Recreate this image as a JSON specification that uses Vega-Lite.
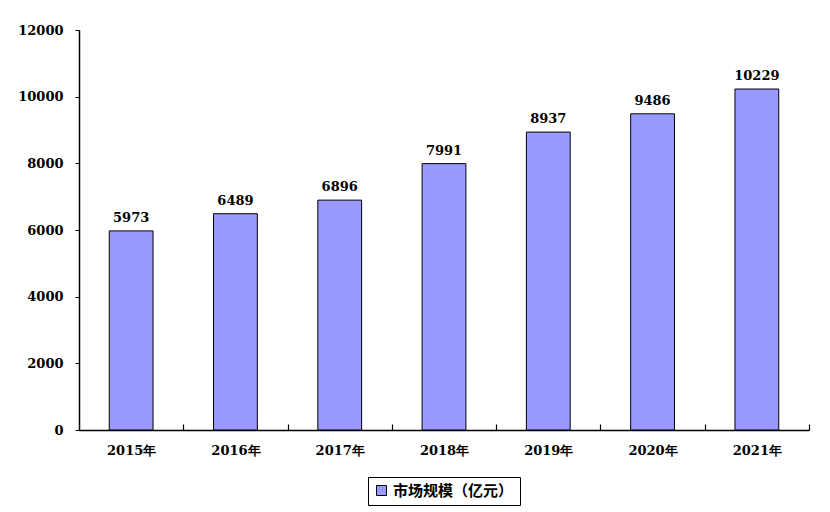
{
  "$schema": "https://vega.github.io/schema/vega-lite/v6.json",
  "width": 730,
  "height": 400,
  "autosize": "none",
  "padding": {"left": 79, "top": 30, "right": 21, "bottom": 82},
  "background": "white",
  "config": {
    "view": {"stroke": null},
    "font": "DejaVu Serif",
    "axis": {"grid": false, "domainColor": "black", "tickColor": "black", "labelColor": "black", "labelFont": "DejaVu Serif", "labelFontSize": 13, "labelFontWeight": "bold", "title": null},
    "legend": {"layout": {"bottom": {"anchor": "middle"}}}
  },
  "data": {
    "values": [
      {"year": "2015年", "value": 5973, "series": "市场规模（亿元）"},
      {"year": "2016年", "value": 6489, "series": "市场规模（亿元）"},
      {"year": "2017年", "value": 6896, "series": "市场规模（亿元）"},
      {"year": "2018年", "value": 7991, "series": "市场规模（亿元）"},
      {"year": "2019年", "value": 8937, "series": "市场规模（亿元）"},
      {"year": "2020年", "value": 9486, "series": "市场规模（亿元）"},
      {"year": "2021年", "value": 10229, "series": "市场规模（亿元）"}
    ]
  },
  "encoding": {
    "x": {
      "field": "year", "type": "nominal", "sort": null,
      "scale": {"paddingInner": 0.58, "paddingOuter": 0.29},
      "axis": {"labelAngle": 0, "ticks": true, "tickSize": -6, "tickWidth": 1.2, "tickOffset": 52.14, "labelOffset": -52.14, "labelPadding": 20, "domainWidth": 1.5}
    },
    "y": {
      "field": "value", "type": "quantitative",
      "scale": {"domain": [0, 12000], "nice": false},
      "axis": {"values": [0, 2000, 4000, 6000, 8000, 10000, 12000], "format": "d", "tickSize": 4, "labelPadding": 12, "domainWidth": 1.5}
    }
  },
  "layer": [
    {
      "mark": {"type": "bar", "stroke": "black", "strokeWidth": 1},
      "encoding": {
        "color": {
          "field": "series", "type": "nominal",
          "scale": {"range": ["#9999FF"]},
          "legend": {
            "orient": "bottom", "direction": "horizontal", "title": null,
            "strokeColor": "black", "padding": 6, "offset": 20,
            "symbolType": "square", "symbolSize": 100, "symbolStrokeColor": "black", "symbolStrokeWidth": 1,
            "labelFont": "Noto Sans CJK SC", "labelFontSize": 15, "labelFontWeight": "bold", "labelColor": "black"
          }
        }
      }
    },
    {
      "mark": {"type": "text", "baseline": "bottom", "dy": -6, "font": "DejaVu Serif", "fontSize": 13, "fontWeight": "bold", "color": "black"},
      "encoding": {"text": {"field": "value", "type": "quantitative", "format": "d"}}
    }
  ]
}
